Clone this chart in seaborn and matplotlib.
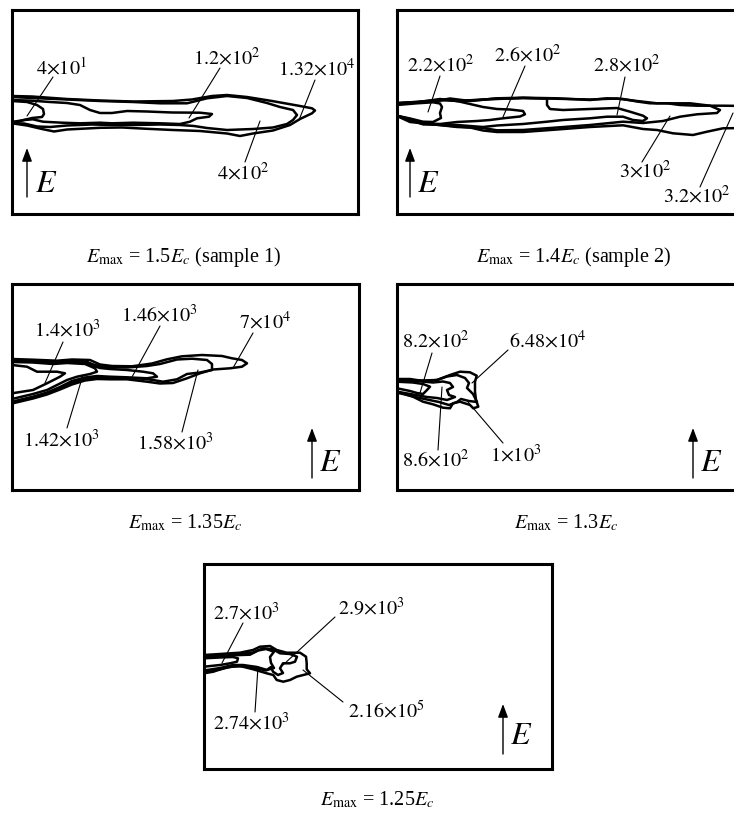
import matplotlib
matplotlib.use("Agg")
import matplotlib.pyplot as plt
import pandas as pd
import seaborn as sns

sns.set_theme(style="white")
plt.rcParams["font.family"] = ["Liberation Serif", "DejaVu Serif"]
plt.rcParams["mathtext.fontset"] = "stix"

FIG_W, FIG_H = 734, 813

# ---------------------------------------------------------------------------
# Panel values: maximum field (in units of E_c) and sample tag
emax_values = ["1.5", "1.4", "1.35", "1.3", "1.25"]
sample_tags = [" (sample 1)", " (sample 2)", "", "", ""]

# Times of each domain outline: mantissa and exponent
p1_mant = ["4", "1.2", "1.32", "4"]
p1_exp = [1, 2, 4, 2]
p2_mant = ["2.2", "2.6", "2.8", "3", "3.2"]
p2_exp = [2, 2, 2, 2, 2]
p3_mant = ["1.4", "1.46", "7", "1.42", "1.58"]
p3_exp = [3, 3, 4, 3, 3]
p4_mant = ["8.2", "6.48", "8.6", "1"]
p4_exp = [2, 4, 2, 3]
p5_mant = ["2.7", "2.9", "2.74", "2.16"]
p5_exp = [3, 3, 3, 5]

# Domain outlines, panel pixel coordinates (x to the right, y downward)
p1_t4e1 = [(0, 91), (15, 92), (25, 95), (31, 99), (32, 104), (30, 107),
           (20, 108), (12, 110), (5, 112), (0, 112)]
p1_t12e2 = [(0, 90), (20, 90.7), (38, 92), (55, 93), (68, 95), (78, 100),
            (88, 103), (100, 103), (115, 101), (135, 101.5), (160, 102.5),
            (188, 102.7), (200, 104), (197, 106.7), (185, 108.3),
            (178, 111.7), (168, 114), (148, 113.3), (121, 112.7),
            (100, 113.3), (88, 112.7), (68, 113.3), (50, 112.7),
            (31, 111.7), (21, 109.3), (12, 110), (0, 112)]
p1_t4e2 = [(0, 87), (20, 88), (55, 89.5), (88, 91), (121, 92), (148, 93.3),
           (175, 93.3), (195, 88.3), (215, 86), (235, 88), (255, 93),
           (268, 97), (281, 100), (285, 105), (281, 110), (275, 114),
           (261, 117.5), (241, 119), (215, 120), (195, 118), (182, 116),
           (168, 115), (148, 114.5), (121, 115), (100, 115), (80, 114.5),
           (55, 115.5), (38, 117), (25, 116.5), (12, 113.5), (0, 113.3)]
p1_t132e4 = [(0, 86), (20, 86.5), (55, 89), (88, 90.5), (121, 91.5),
             (161, 91), (180, 89.5), (200, 86), (215, 85), (235, 87),
             (260, 91), (288, 96), (300, 98.3), (303, 100.5), (300, 103.3),
             (288, 109), (278, 115), (261, 120.5), (241, 123.5), (228, 126),
             (215, 123.5), (188, 121), (161, 120), (135, 118.8),
             (110, 117.5), (88, 117.8), (55, 119.5), (42, 121.5), (30, 119),
             (15, 115.5), (0, 113.3)]

p2_t22e2 = [(0, 95), (20, 93.3), (36, 92.3), (43, 93.5), (45, 97), (43, 103),
            (44, 108), (36, 112), (26, 111.7), (13, 108.5), (0, 105.7)]
p2_t26e2 = [(0, 93.5), (20, 92.5), (43, 90.5), (53, 89.5), (60, 91),
            (73, 94), (86, 97), (100, 99), (113, 99.5), (126, 101),
            (128, 104.3), (123, 106.5), (106, 108.3), (93, 110), (80, 111),
            (60, 112), (43, 114), (26, 113.3), (13, 109), (0, 106)]
p2_t28e2 = [(0, 93), (36, 91.5), (53, 88.5), (73, 91), (93, 89), (126, 88),
            (150, 88.5), (150, 95), (153, 99), (166, 100), (193, 99),
            (220, 98), (233, 101.7), (246, 105.7), (250, 108.3), (246, 111),
            (236, 110), (226, 106.7), (210, 106.7), (193, 108.3),
            (166, 110), (150, 111.7), (126, 114), (100, 115.5), (86, 117),
            (60, 115), (43, 114.3), (26, 114.3), (13, 110), (0, 106)]
p2_t3e2 = [(0, 93.3), (43, 90), (60, 91), (86, 89.5), (126, 88),
           (193, 89.5), (220, 88.5), (240, 91), (260, 93.3), (293, 93.3),
           (313, 95.7), (323, 100), (320, 103), (300, 104.3), (283, 106.7),
           (266, 111), (246, 113), (226, 111.7), (193, 115), (160, 117.5),
           (126, 120), (100, 120.3), (86, 118), (60, 117), (36, 114.3),
           (13, 112), (0, 106)]
p2_t32e2 = [(0, 93.3), (20, 92.3), (43, 89), (60, 91), (83, 90), (100, 88.3),
            (126, 87.7), (160, 88.3), (193, 90), (210, 88.3), (226, 89),
            (240, 91.5), (253, 93.3), (270, 93.3), (283, 95), (300, 95.7),
            (326, 95.7), (352, 96), (352, 118), (326, 118.3), (310, 121.7),
            (296, 125), (276, 123.3), (260, 120), (246, 119), (226, 115.3),
            (193, 117), (160, 119.5), (126, 122), (100, 122), (86, 120.5),
            (73, 117.5), (43, 115), (26, 114), (0, 105.7)]

p3_t14e3 = [(0, 81), (15, 82.7), (25, 87.7), (45, 87.7), (53, 89.3),
            (48, 92.7), (35, 99.3), (21, 106), (0, 109.3)]
p3_t142e3 = [(0, 78), (21, 78.5), (41, 80), (55, 79), (73, 80), (83, 84.3),
             (85, 87.7), (78, 90), (65, 92.7), (55, 96), (45, 101),
             (35, 106), (21, 110), (0, 115)]
p3_t146e3 = [(0, 77), (21, 77.7), (41, 79), (55, 77.7), (73, 78), (80, 81.5),
             (88, 84), (98, 85), (115, 86), (131, 87.7), (141, 89.3),
             (145, 92.7), (135, 94.3), (115, 93.3), (98, 92.7), (85, 92),
             (73, 93.5), (60, 97), (48, 103), (35, 108.5), (21, 112.7),
             (0, 117.7)]
p3_t158e3 = [(0, 76), (21, 76.5), (45, 77.7), (55, 76.7), (73, 77), (80, 80),
             (90, 83), (115, 83.5), (135, 82), (148, 80), (165, 75.5),
             (180, 74.7), (195, 76), (200, 80), (200, 86), (188, 88.5),
             (175, 90), (165, 95.3), (151, 97.7), (141, 96), (131, 94.7),
             (115, 94.3), (98, 94), (85, 93.5), (73, 95), (60, 99),
             (48, 104.5), (35, 109.5), (21, 113.5), (0, 118.7)]
p3_t7e4 = [(0, 75), (21, 75.7), (45, 76.7), (60, 75.5), (78, 76),
           (88, 80.5), (100, 82), (120, 82.3), (140, 79.5), (155, 75.3),
           (170, 72.3), (190, 71), (210, 72), (220, 74.3), (230, 76),
           (235, 79.3), (230, 82.7), (218, 84.3), (201, 85.5), (188, 89.3),
           (175, 94.3), (161, 99), (148, 99.5), (135, 97.7), (115, 95.3),
           (98, 95.3), (85, 95), (73, 96.5), (60, 100.5), (48, 105.5),
           (35, 110.5), (21, 114.5), (0, 119.5)]

p4_t82e2 = [(0, 97.7), (16, 98.5), (26, 100), (33, 102.7), (30, 106),
            (26, 110), (20, 109), (13, 107), (0, 104.3)]
p4_t86e2 = [(0, 96.5), (20, 97), (36, 98.5), (46, 97.5), (53, 99), (56, 103),
            (50, 106), (52, 111), (58, 113), (50, 116), (40, 114), (30, 113),
            (16, 110.5), (0, 107.7)]
p4_t1e3 = [(0, 96), (26, 96.5), (40, 96), (50, 92.5), (60, 91), (68, 94),
           (72, 99), (70, 104), (76, 110), (80, 118), (72, 117), (64, 115),
           (60, 118), (52, 121), (42, 118), (30, 115.5), (16, 112.5),
           (6, 110), (0, 108.7)]
p4_t648e4 = [(0, 95), (13, 95), (26, 97), (40, 96), (53, 91), (63, 87.7),
             (73, 88.3), (79.7, 91.7), (78, 97.7), (78, 107.7), (79, 116),
             (81.3, 122.7), (76.3, 124.3), (73, 121), (63, 117.7),
             (56, 119.3), (53, 124.3), (46, 123.7), (36, 120.3),
             (26, 117.7), (16, 112.7), (6, 109.3), (0, 107.7)]

p5_t27e3 = [(0, 94.3), (16, 93.5), (29, 93), (34, 94.3), (33, 97.7),
            (26, 99.3), (16, 101), (0, 102.7)]
p5_t274e3 = [(0, 92.5), (22, 91.5), (46, 90.7), (54, 86.5), (62, 85),
             (70, 87.7), (66, 93), (67, 99), (70, 104), (63, 106), (53, 103),
             (39, 101), (29, 101), (16, 104), (0, 106.5)]
p5_t29e3 = [(0, 92), (29, 91), (49, 88.5), (59, 84.3), (69, 85.3), (76, 89.3),
            (86, 90), (93, 92.7), (91, 97.7), (86, 99.3), (79, 99.3),
            (76, 104.3), (79, 109), (74, 111), (69, 107.7), (67, 103),
            (62, 106.5), (53, 104.5), (39, 102.3), (29, 102.3), (16, 105.3),
            (0, 108)]
p5_t216e5 = [(0, 91), (16, 90), (36, 88.7), (49, 86), (56, 82.7), (66, 82),
             (72.7, 86), (82.7, 88.7), (96, 88.7), (102, 92.7), (102.7, 99.3),
             (102.7, 105.3), (106, 109.3), (99.3, 111), (92.7, 112.7),
             (86, 116), (79.3, 117.7), (72.7, 116), (69.3, 111),
             (62.7, 109.3), (49.3, 105.3), (36, 102), (22.7, 103.3),
             (9.3, 107.7), (0, 109.3)]

# ---------------------------------------------------------------------------
# Layout (figure pixels): panel boxes, captions, field arrows, label placement
panel_boxes = [(12, 10, 346, 204), (397, 10, 346, 204), (12, 284, 347, 206),
               (397, 284, 346, 206), (204, 564, 348, 205)]
caption_pos = [(184, 257), (574, 257), (185, 523), (566, 523), (377, 800)]
arrow_pos = [(27, 197, 148, 46, 192), (410, 197, 148, 428, 192),
             (312, 478, 428, 330, 471), (693, 478, 428, 711, 471),
             (503, 754, 704, 521, 744)]

# (text x, text baseline y, leader start x, y, leader end x, y)
p1_layout = [(61, 74, 53, 77, 27, 116), (227, 65, 220, 68, 189, 118),
             (317, 76, 315, 80, 299, 120), (243, 180, 245, 162, 260, 121)]
p2_layout = [(441, 72, 440, 76, 428, 112), (528, 62, 525, 66, 503, 117),
             (627, 72, 625, 77, 617, 115), (645, 178, 642, 162, 670, 116),
             (697, 203, 700, 187, 733, 113)]
p3_layout = [(67, 337, 63, 342, 45, 383), (159, 322, 160, 326, 132, 377),
             (265, 329, 253, 333, 233, 368), (61, 447, 67, 428, 83, 375),
             (175, 450, 182, 432, 198, 370)]
p4_layout = [(436, 348, 432, 353, 420, 393), (548, 348, 508, 350, 472, 383),
             (436, 467, 438, 450, 442, 387), (516, 462, 503, 443, 468, 402)]
p5_layout = [(246, 620, 243, 623, 222, 663), (371, 615, 335, 617, 283, 665),
             (251, 730, 255, 712, 258, 667), (386, 718, 343, 702, 303, 670)]

panel_outlines = [
    [p1_t4e1, p1_t12e2, p1_t4e2, p1_t132e4],
    [p2_t22e2, p2_t26e2, p2_t28e2, p2_t3e2, p2_t32e2],
    [p3_t14e3, p3_t142e3, p3_t146e3, p3_t158e3, p3_t7e4],
    [p4_t82e2, p4_t86e2, p4_t1e3, p4_t648e4],
    [p5_t27e3, p5_t274e3, p5_t29e3, p5_t216e5],
]
panel_mants = [p1_mant, p2_mant, p3_mant, p4_mant, p5_mant]
panel_exps = [p1_exp, p2_exp, p3_exp, p4_exp, p5_exp]
panel_layouts = [p1_layout, p2_layout, p3_layout, p4_layout, p5_layout]

LABEL_SIZE = 14.5
fig = plt.figure(figsize=(FIG_W / 100, FIG_H / 100), dpi=100)
fig.patch.set_facecolor("white")

for i, (left, top, w, h) in enumerate(panel_boxes):
    ax = fig.add_axes([left / FIG_W, 1 - (top + h) / FIG_H, w / FIG_W, h / FIG_H])
    ax.set_facecolor("white")

    for outline in panel_outlines[i]:
        df = pd.DataFrame(outline, columns=["x", "y"])
        sns.lineplot(data=df, x="x", y="y", sort=False, estimator=None,
                     color="black", lw=1.8, ax=ax,
                     solid_joinstyle="round", solid_capstyle="round")

    for mant, ex, (tx, ty, sx, sy, ex_, ey) in zip(panel_mants[i], panel_exps[i],
                                                   panel_layouts[i]):
        ax.text(tx - left, ty - top, rf"${mant}{{\times}}10^{{{ex}}}$",
                ha="center", va="baseline", fontsize=LABEL_SIZE, color="black")
        ax.plot([sx - left, ex_ - left], [sy - top, ey - top],
                color="black", lw=0.8)

    axx, ay0, ay1, etx, ety = arrow_pos[i]
    ax.annotate("", xy=(axx - left, ay1 - top), xytext=(axx - left, ay0 - top),
                arrowprops=dict(arrowstyle="-|>,head_length=0.8,head_width=0.3",
                                mutation_scale=10, lw=1.0, color="black",
                                shrinkA=0, shrinkB=0))
    ax.text(etx - left, ety - top, r"$E$", ha="center", va="baseline",
            fontsize=23, color="black")

    ax.set_xlim(0, w)
    ax.set_ylim(h, 0)
    ax.set_xticks([])
    ax.set_yticks([])
    ax.set_xlabel("")
    ax.set_ylabel("")
    for sp in ax.spines.values():
        sp.set_visible(True)
        sp.set_color("black")
        sp.set_linewidth(2.2)

    cx, cy = caption_pos[i]
    fig.text(cx / FIG_W, 1 - cy / FIG_H,
             rf"$E_{{\mathrm{{max}}}}$ = {emax_values[i]}$E_c${sample_tags[i]}",
             ha="center", va="center", fontsize=LABEL_SIZE, color="black")

fig.savefig("out.png", dpi=100, facecolor="white")
